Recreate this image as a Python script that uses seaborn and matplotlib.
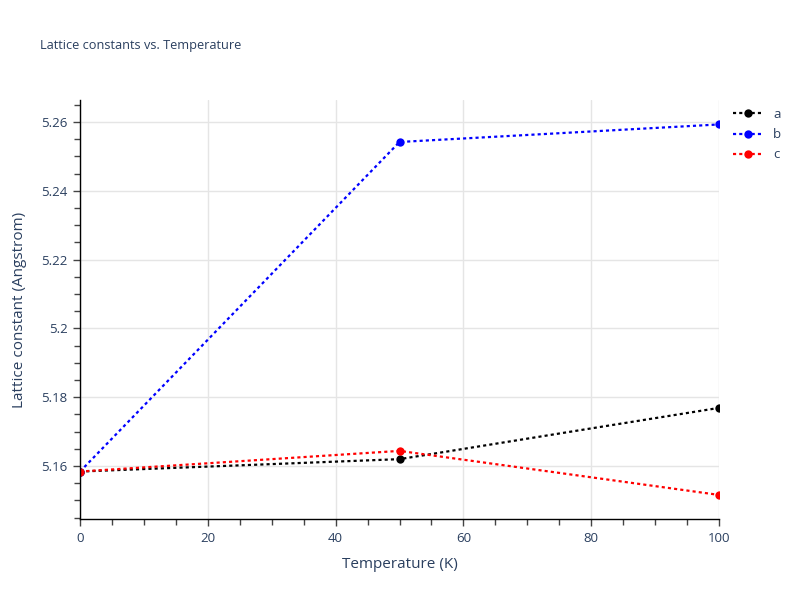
import pandas as pd
import matplotlib
matplotlib.use("Agg")
import matplotlib.pyplot as plt
from matplotlib.ticker import MultipleLocator, FuncFormatter
import seaborn as sns

# values
temperature = [0, 50, 100]
lat_a = [5.1584, 5.1620, 5.1769]
lat_b = [5.1584, 5.2542, 5.2593]
lat_c = [5.1584, 5.1644, 5.1516]
series_names = ["a", "b", "c"]
series_colors = ["black", "blue", "red"]

df = pd.DataFrame({
    "Temperature": temperature * 3,
    "value": lat_a + lat_b + lat_c,
    "series": [n for n in series_names for _ in temperature],
})

sns.set_style("white")
plt.rcParams["font.family"] = ["Open Sans", "DejaVu Sans"]
txt = "#2a3f5f"

fig = plt.figure(figsize=(8, 6), dpi=100)
ax = fig.add_axes([0.1, 0.135, 0.79875, 0.6983])

for name, col in zip(series_names, series_colors):
    sub = df[df["series"] == name]
    sns.lineplot(data=sub, x="Temperature", y="value", ax=ax, color=col,
                 marker="o", markersize=6, markeredgewidth=0, linewidth=1.6,
                 label=name)
for line in ax.get_lines():
    line.set_dashes((1.4, 1.4))

ax.set_xlim(0, 100)
ax.set_ylim(5.1446, 5.2664)
ax.xaxis.set_major_locator(MultipleLocator(20))
ax.xaxis.set_minor_locator(MultipleLocator(5))
ax.yaxis.set_major_locator(MultipleLocator(0.02))
ax.yaxis.set_minor_locator(MultipleLocator(0.005))
ax.yaxis.set_major_formatter(FuncFormatter(lambda v, p: f"{v:.3f}".rstrip("0").rstrip(".")))

ax.grid(True, which="major", color="#e5e5e5", linewidth=1)
ax.set_axisbelow(True)
for s in ["top", "right"]:
    ax.spines[s].set_visible(False)
for s in ["left", "bottom"]:
    ax.spines[s].set_color("black")
    ax.spines[s].set_linewidth(1)
ax.tick_params(which="both", direction="out", color="#444444", labelcolor=txt, labelsize=9.5)
ax.tick_params(which="major", length=5, width=1, pad=4)
ax.tick_params(which="minor", length=4, width=1)
ax.tick_params(axis="both", which="both", bottom=True, left=True)

ax.set_xlabel("Temperature (K)", color=txt, fontsize=11, labelpad=9)
ax.set_ylabel("Lattice constant (Angstrom)", color=txt, fontsize=11, labelpad=10)
fig.text(0.05, 0.924, "Lattice constants vs. Temperature", color=txt, fontsize=9.2, va="center")

leg = ax.legend(loc="upper left", bbox_to_anchor=(1.01, 1.0), frameon=False,
                fontsize=9.5, handlelength=2.2, labelspacing=0.55, borderaxespad=0.2)
for t in leg.get_texts():
    t.set_color(txt)

fig.savefig("out.png", dpi=100)
